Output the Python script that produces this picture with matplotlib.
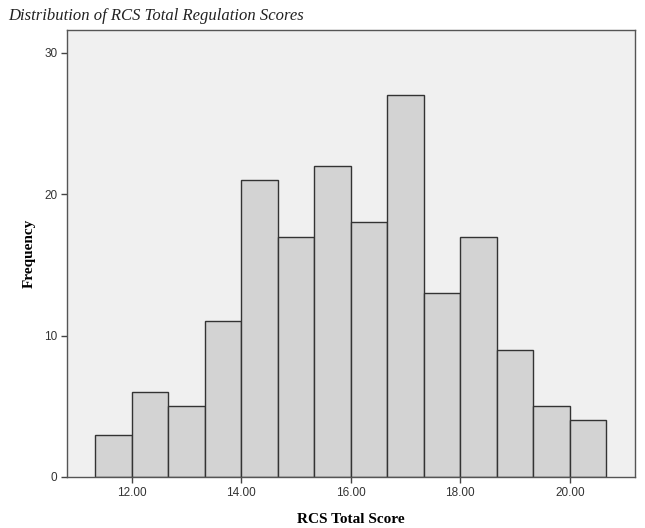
import matplotlib.pyplot as plt
import numpy as np

# histogram data
bin_edges = np.linspace(11 + 1/3, 20 + 2/3, 15)
counts = [3, 6, 5, 11, 21, 17, 22, 18, 27, 13, 17, 9, 5, 4]
x_ticks = [12, 14, 16, 18, 20]
y_ticks = [0, 10, 20, 30]

serif = ['Liberation Serif', 'DejaVu Serif']
sans = ['Liberation Sans', 'DejaVu Sans']

fig = plt.figure(figsize=(6.45, 5.28), dpi=100)
ax = fig.add_axes([0.1039, 0.0966, 0.8806, 0.8466])
ax.set_facecolor('#f0f0f0')

ax.bar(bin_edges[:-1], counts, width=np.diff(bin_edges), align='edge',
       color='#d3d3d3', edgecolor='#333333', linewidth=1.0, zorder=2)

ax.set_xlim(10.817, 21.19)
ax.set_ylim(0, 31.6)

ax.set_xticks(x_ticks)
ax.set_xticklabels([f'{t:.2f}' for t in x_ticks], family=sans, fontsize=8.5, color='#333333')
ax.set_yticks(y_ticks)
ax.set_yticklabels([str(t) for t in y_ticks], family=sans, fontsize=8.5, color='#333333')
ax.tick_params(direction='out', length=4, width=1, color='#444444', pad=3)

for s in ax.spines.values():
    s.set_color('#555555')
    s.set_linewidth(1.0)

ax.set_xlabel('RCS Total Score', family=serif, fontweight='bold', fontsize=11, labelpad=10)
ax.set_ylabel('Frequency', family=serif, fontweight='bold', fontsize=11, labelpad=6)

fig.text(0.012, 0.97, 'Distribution of RCS Total Regulation Scores', family=serif,
         style='italic', fontsize=12, va='center', ha='left', color='#222222')

fig.savefig('out.png', dpi=100)
